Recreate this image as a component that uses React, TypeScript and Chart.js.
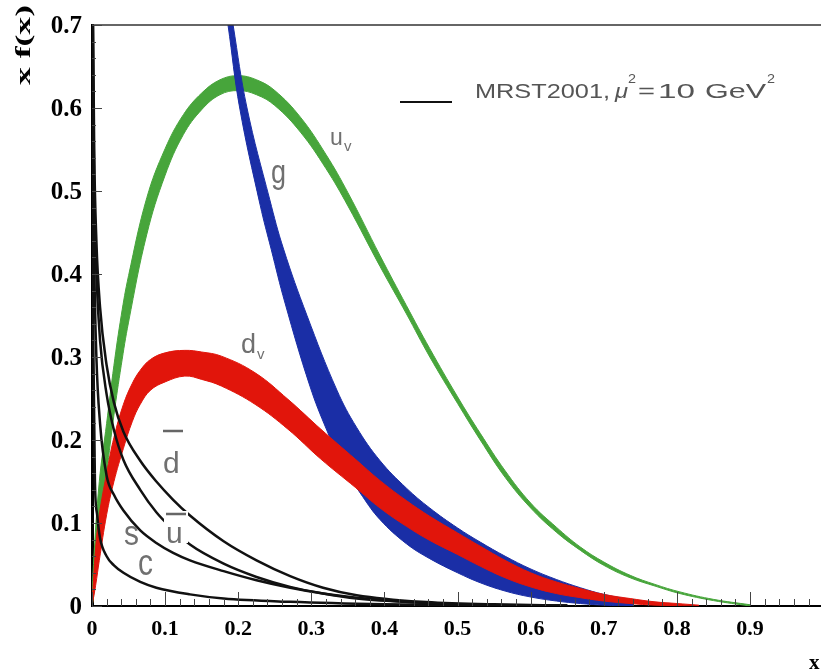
import React, { useEffect, useRef } from 'react';
import { Chart, registerables } from 'chart.js';

Chart.register(...registerables);

// ---------- axis ticks ----------
const xTickValues = [0, 0.1, 0.2, 0.3, 0.4, 0.5, 0.6, 0.7, 0.8, 0.9];
const xTickLabels = ['0', '0.1', '0.2', '0.3', '0.4', '0.5', '0.6', '0.7', '0.8', '0.9'];
const yTickValues = [0, 0.1, 0.2, 0.3, 0.4, 0.5, 0.6, 0.7];
const yTickLabels = ['0', '0.1', '0.2', '0.3', '0.4', '0.5', '0.6', '0.7'];

// ---------- u_v band (green) ----------
const uvX = [0, 0.002, 0.01, 0.02, 0.03, 0.04, 0.05, 0.075, 0.1, 0.125, 0.15, 0.175, 0.2, 0.225, 0.25, 0.285, 0.32, 0.35, 0.394, 0.43, 0.462, 0.5, 0.531, 0.565, 0.6, 0.635, 0.668, 0.7, 0.736, 0.77, 0.804, 0.85, 0.9];
const uvUpper = [0, 0.05, 0.15, 0.22, 0.29, 0.35, 0.398, 0.492, 0.551, 0.592, 0.618, 0.634, 0.639, 0.634, 0.621, 0.589, 0.544, 0.498, 0.422, 0.362, 0.31, 0.252, 0.208, 0.163, 0.124, 0.095, 0.071, 0.053, 0.037, 0.026, 0.017, 0.008, 0.0015];
const uvLower = [0, 0.01, 0.09, 0.16, 0.23, 0.29, 0.342, 0.448, 0.519, 0.568, 0.598, 0.616, 0.621, 0.616, 0.603, 0.571, 0.527, 0.482, 0.409, 0.352, 0.3, 0.244, 0.2, 0.155, 0.118, 0.089, 0.067, 0.049, 0.034, 0.024, 0.015, 0.0065, 0];

// ---------- d_v band (red) ----------
const dvX = [0, 0.005, 0.01, 0.02, 0.03, 0.043, 0.055, 0.066, 0.08, 0.1, 0.127, 0.15, 0.177, 0.223, 0.268, 0.313, 0.36, 0.394, 0.43, 0.462, 0.5, 0.531, 0.565, 0.6, 0.635, 0.668, 0.7, 0.736, 0.77, 0.8, 0.83];
const dvUpper = [0, 0.07, 0.11, 0.16, 0.203, 0.243, 0.268, 0.284, 0.297, 0.305, 0.308, 0.306, 0.301, 0.281, 0.249, 0.213, 0.177, 0.151, 0.127, 0.108, 0.088, 0.072, 0.055, 0.04, 0.029, 0.021, 0.014, 0.009, 0.005, 0.003, 0.001];
const dvLower = [0, 0.025, 0.055, 0.11, 0.15, 0.19, 0.222, 0.243, 0.26, 0.27, 0.277, 0.273, 0.265, 0.243, 0.213, 0.177, 0.143, 0.118, 0.096, 0.079, 0.062, 0.048, 0.034, 0.023, 0.015, 0.01, 0.006, 0.003, 0.001, 0.0005, 0];

// ---------- gluon band (blue) ----------
const gUpperX = [0.172, 0.193, 0.212, 0.243, 0.262, 0.294, 0.335, 0.362, 0.394, 0.43, 0.462, 0.5, 0.531, 0.565, 0.599, 0.635, 0.668, 0.7, 0.736, 0.77, 0.8];
const gUpperY = [0.82, 0.7, 0.6, 0.49, 0.43, 0.35, 0.26, 0.215, 0.175, 0.142, 0.118, 0.094, 0.077, 0.06, 0.045, 0.032, 0.022, 0.014, 0.008, 0.004, 0.001];
const gLowerX = [0.166, 0.186, 0.202, 0.23, 0.245, 0.264, 0.298, 0.321, 0.343, 0.37, 0.394, 0.43, 0.462, 0.5, 0.531, 0.565, 0.599, 0.635, 0.668, 0.7, 0.74];
const gLowerY = [0.82, 0.7, 0.6, 0.483, 0.43, 0.365, 0.265, 0.212, 0.17, 0.132, 0.104, 0.075, 0.057, 0.04, 0.028, 0.018, 0.011, 0.006, 0.003, 0.001, 0];

// ---------- sea quarks (black) ----------
const seaX = [0.001, 0.003, 0.006, 0.011, 0.02, 0.03, 0.043, 0.066, 0.088, 0.111, 0.134, 0.18, 0.225, 0.271, 0.316, 0.362, 0.45, 0.55, 0.65];
const dbarY = [0.75, 0.55, 0.44, 0.36, 0.29, 0.245, 0.21, 0.175, 0.15, 0.128, 0.109, 0.078, 0.055, 0.036, 0.022, 0.013, 0.005, 0.002, 0.0005];
const ubarY = [0.72, 0.5, 0.4, 0.32, 0.255, 0.212, 0.176, 0.14, 0.113, 0.092, 0.074, 0.051, 0.035, 0.023, 0.015, 0.009, 0.004, 0.001, 0.0003];
const sY = [0.62, 0.42, 0.3, 0.22, 0.157, 0.134, 0.115, 0.091, 0.076, 0.064, 0.055, 0.042, 0.031, 0.022, 0.015, 0.01, 0.004, 0.001, 0.0003];
const cX = [0.0005, 0.001, 0.002, 0.004, 0.007, 0.011, 0.02, 0.03, 0.043, 0.066, 0.088, 0.134, 0.18, 0.271, 0.4, 0.55];
const cY = [0.75, 0.45, 0.3, 0.15, 0.11, 0.082, 0.06, 0.049, 0.04, 0.029, 0.022, 0.014, 0.009, 0.005, 0.002, 0.0005];

const GREEN = '#47a53b';
const RED = '#e1150b';
const BLUE = '#1a2ea6';
const BLACK = '#111111';
const LABEL = '#707070';

const toPts = (xs: number[], ys: number[]) => xs.map((x, i) => ({ x, y: ys[i] }));

function bandSets(name: string, xu: number[], yu: number[], xl: number[], yl: number[], color: string, order: number) {
  const common = { borderColor: color, backgroundColor: color, borderWidth: 1, pointRadius: 0, tension: 0.4, order };
  return [
    { label: name + ' upper', data: toPts(xu, yu), fill: '+1', ...common },
    { label: name + ' lower', data: toPts(xl, yl), fill: false, ...common },
  ];
}

function seaSet(name: string, xs: number[], ys: number[]) {
  return { label: name, data: toPts(xs, ys), borderColor: BLACK, borderWidth: 2.5, pointRadius: 0, fill: false, cubicInterpolationMode: 'monotone', order: 0 };
}

const SANS = '"Liberation Sans", Arial, sans-serif';
const SERIF = '"Liberation Serif", "Times New Roman", serif';

function txt(ctx: CanvasRenderingContext2D, s: string, x: number, base: number, font: string, sx = 1, sy = 1, color = LABEL) {
  ctx.save();
  ctx.translate(x, base);
  ctx.scale(sx, sy);
  ctx.font = font;
  ctx.fillStyle = color;
  ctx.textAlign = 'left';
  ctx.textBaseline = 'alphabetic';
  ctx.fillText(s, 0, 0);
  ctx.restore();
}

function fit(ctx: CanvasRenderingContext2D, s: string, x0: number, x1: number, base: number, font: string, color: string) {
  ctx.save();
  ctx.font = font;
  const w = ctx.measureText(s).width;
  ctx.translate(x0, base);
  ctx.scale((x1 - x0) / w, 1);
  ctx.fillStyle = color;
  ctx.textAlign = 'left';
  ctx.textBaseline = 'alphabetic';
  ctx.fillText(s, 0, 0);
  ctx.restore();
}

const decor = {
  id: 'decor',
  afterDatasetsDraw(chart: any) {
    const ctx: CanvasRenderingContext2D = chart.ctx;
    ctx.save();
    // knock-out behind the u-bar label
    ctx.fillStyle = '#ffffff';
    ctx.fillRect(164, 511, 24, 32);
    // curve labels
    txt(ctx, 'u', 330, 145, `23px ${SANS}`);
    txt(ctx, 'v', 344, 151, `15px ${SANS}`);
    txt(ctx, 'g', 271, 183, `27px ${SANS}`, 1, 1.25);
    txt(ctx, 'd', 241, 353, `27px ${SANS}`);
    txt(ctx, 'v', 257, 359, `15px ${SANS}`);
    txt(ctx, 'd', 163, 473, `30px ${SANS}`);
    txt(ctx, 'u', 166, 543, `30px ${SANS}`);
    txt(ctx, 's', 124, 545, `30px ${SANS}`, 1, 1.15);
    txt(ctx, 'c', 138, 575, `30px ${SANS}`, 1, 1.2);
    ctx.strokeStyle = '#666';
    ctx.lineWidth = 2.5;
    ctx.beginPath();
    ctx.moveTo(163, 431); ctx.lineTo(183, 431);
    ctx.moveTo(166, 514); ctx.lineTo(186, 514);
    ctx.stroke();
    ctx.restore();
  },
  afterDraw(chart: any) {
    const ctx: CanvasRenderingContext2D = chart.ctx;
    const a = chart.chartArea;
    const xs = chart.scales.x;
    const ys = chart.scales.y;
    ctx.save();
    // top frame line
    ctx.strokeStyle = '#333';
    ctx.lineWidth = 1.5;
    ctx.beginPath();
    ctx.moveTo(a.left, a.top);
    ctx.lineTo(a.right, a.top);
    ctx.stroke();
    // inward tick marks
    ctx.strokeStyle = '#444';
    ctx.lineWidth = 1;
    ctx.beginPath();
    for (let i = 0; i <= 49; i++) {
      const px = Math.round(xs.getPixelForValue(i * 0.02)) + 0.5;
      const len = i % 5 === 0 ? 14 : 7;
      ctx.moveTo(px, a.bottom);
      ctx.lineTo(px, a.bottom - len);
    }
    for (let i = 0; i <= 35; i++) {
      const py = Math.round(ys.getPixelForValue(i * 0.02)) + 0.5;
      const len = i % 5 === 0 ? 10 : 4;
      ctx.moveTo(a.left, py);
      ctx.lineTo(a.left + len, py);
    }
    ctx.stroke();
    // legend
    ctx.strokeStyle = '#111';
    ctx.lineWidth = 2;
    ctx.beginPath();
    ctx.moveTo(400, 102);
    ctx.lineTo(452, 102);
    ctx.stroke();
    const lf = `21px ${SANS}`;
    const sf = `13px ${SANS}`;
    const lc = '#555';
    fit(ctx, 'MRST2001,', 475, 610, 98, lf, lc);
    fit(ctx, 'μ', 615, 628, 98, 'italic ' + lf, lc);
    fit(ctx, '2', 628, 636, 83, sf, lc);
    fit(ctx, '=', 638, 655, 98, lf, lc);
    fit(ctx, '10', 658, 695, 98, lf, lc);
    fit(ctx, 'GeV', 705, 766, 98, lf, lc);
    fit(ctx, '2', 767, 775, 83, sf, lc);
    // y axis title
    ctx.save();
    ctx.translate(30, 45);
    ctx.rotate(-Math.PI / 2);
    ctx.font = `bold 22px ${SERIF}`;
    const tw = ctx.measureText('x f(x)').width;
    ctx.scale(80 / tw, 1);
    ctx.fillStyle = '#000';
    ctx.textAlign = 'center';
    ctx.textBaseline = 'alphabetic';
    ctx.fillText('x f(x)', 0, 0);
    ctx.restore();
    // x axis title
    txt(ctx, 'x', 809, 669, `bold 21px ${SERIF}`, 1, 1, '#000');
    ctx.restore();
  },
};

export default function App() {
  const ref = useRef<HTMLCanvasElement | null>(null);
  useEffect(() => {
    if (!ref.current) return;
    const datasets: any[] = [
      seaSet('dbar', seaX, dbarY),
      seaSet('ubar', seaX, ubarY),
      seaSet('s', seaX, sY),
      seaSet('c', cX, cY),
      ...bandSets('dv', dvX, dvUpper, dvX, dvLower, RED, 1),
      ...bandSets('g', gUpperX, gUpperY, gLowerX, gLowerY, BLUE, 2),
      ...bandSets('uv', uvX, uvUpper, uvX, uvLower, GREEN, 3),
    ];
    const chart = new Chart(ref.current, {
      type: 'line',
      data: { datasets },
      plugins: [decor],
      options: {
        animation: false,
        responsive: false,
        events: [],
        layout: { padding: { top: 16, right: 0, left: 0, bottom: 0 } },
        plugins: { legend: { display: false }, tooltip: { enabled: false } },
        scales: {
          x: {
            type: 'linear',
            min: 0,
            max: 0.997,
            grid: { display: false, drawTicks: false },
            border: { display: true, color: '#000', width: 2 },
            ticks: {
              padding: 10,
              autoSkip: false,
              maxRotation: 0,
              color: '#000',
              font: { family: SERIF, weight: 'bold', size: 22 },
              callback: (v: any) => xTickLabels[xTickValues.indexOf(Number(v))] ?? '',
            },
            afterBuildTicks: (s: any) => { s.ticks = xTickValues.map((value) => ({ value })); },
            afterFit: (s: any) => { s.height = 66; },
          },
          y: {
            type: 'linear',
            min: 0,
            max: 0.7,
            grid: { display: false, drawTicks: false },
            border: { display: true, color: '#000', width: 3 },
            ticks: {
              padding: 10,
              labelOffset: 2,
              color: '#000',
              font: { family: SERIF, weight: 'bold', size: 25 },
              callback: (v: any) => yTickLabels[yTickValues.indexOf(Number(v))] ?? '',
            },
            afterBuildTicks: (s: any) => { s.ticks = yTickValues.map((value) => ({ value })); },
            afterFit: (s: any) => { s.width = 92; },
          },
        },
      } as any,
    });
    return () => chart.destroy();
  }, []);
  return (
    <div style={{ position: 'absolute', left: 0, top: 0, width: 821, height: 672, background: '#fff' }}>
      <canvas ref={ref} width={821} height={672} />
    </div>
  );
}
